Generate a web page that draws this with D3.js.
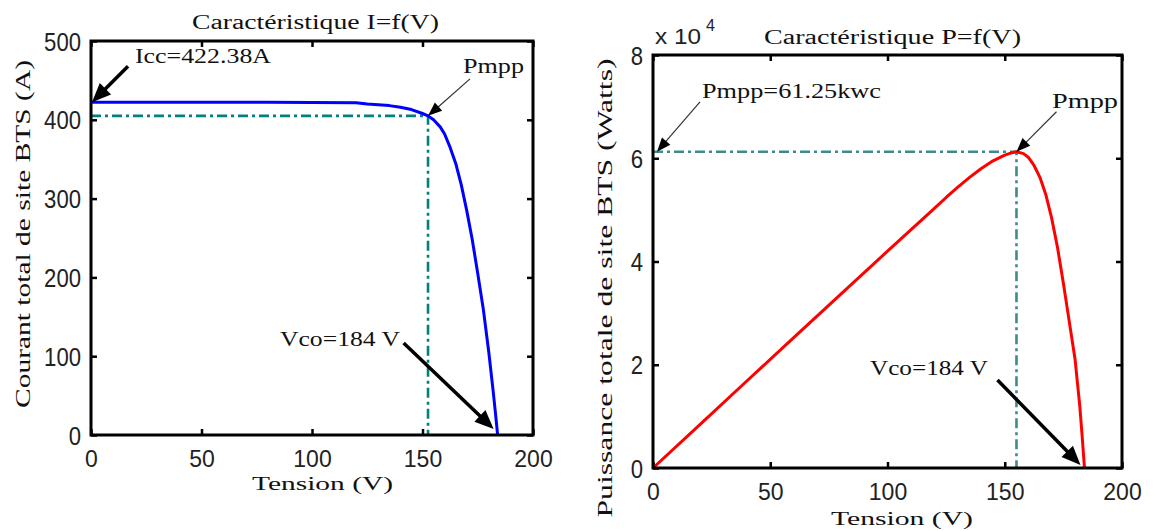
<!DOCTYPE html>
<html>
<head>
<meta charset="utf-8">
<script src="https://cdn.jsdelivr.net/npm/d3@7"></script>
<style>
  body { margin: 0; background: #fff; }
  svg { display: block; }
</style>
</head>
<body>
<svg id="fig" width="1154" height="531"></svg>
<script>
// Tension aux bornes du champ PV (V)
const voltage = [0, 20, 40, 60, 80, 100, 120, 125, 130, 135, 140, 145, 150, 152.5, 155,
                 158, 160, 162.5, 165, 167.5, 170, 172.5, 175, 177.5, 180, 182, 183, 184];
// Courant total du site BTS (A)
const current = [422.38, 422.38, 422.38, 422.3, 422.2, 422.0, 421.5, 420, 419, 418, 416, 413, 408, 405, 400,
                 391, 382, 365, 345, 318, 285, 248, 205, 160, 105, 55, 28, 0];
// Puissance totale du site BTS (W)
const power = [0, 8420, 16850, 25250, 33650, 42000, 50300, 52400, 54400, 56300, 58000, 59500, 60600, 61000, 61250,
               60900, 60200, 58600, 56300, 53000, 48400, 42700, 35800, 28400, 21000, 12000, 6200, 0];

const voltageTicks = [0, 50, 100, 150, 200];
const currentTicks = [0, 100, 200, 300, 400, 500];
const powerTicks = [0, 20000, 40000, 60000, 80000];

// Points remarquables
const iccValue = 422.38;
const vcoValue = 184;
const vMppI = 152.5, iMpp = 405;
const vMppP = 155, pMpp = 61250;

const svg = d3.select("#fig");
svg.append("rect").attr("width", 1154).attr("height", 531).attr("fill", "#fff");

const SERIF = "'Liberation Serif', 'DejaVu Serif', serif";
const SANS = "'Liberation Sans', Arial, sans-serif";

function label(g, text, x, y, len, opts = {}) {
  const t = g.append("text")
    .attr("x", x).attr("y", y)
    .attr("font-family", opts.family || SERIF)
    .attr("font-size", opts.size || 20)
    .attr("fill", opts.fill || "#111")
    .attr("text-anchor", opts.anchor || "start")
    .text(text);
  if (len) t.attr("textLength", len).attr("lengthAdjust", "spacingAndGlyphs");
  if (opts.rotate) t.attr("transform", `rotate(-90,${x},${y})`);
  return t;
}

function arrow(g, tip, dx, dy, thick) {
  const [x2, y2] = tip;
  const x1 = x2 + dx, y1 = y2 + dy;
  const L = Math.hypot(dx, dy);
  const ux = -dx / L, uy = -dy / L;          // direction queue -> pointe
  const headLen = thick ? 19 : 14;
  const half = thick ? 8 : 5.5;
  const bx = x2 - ux * headLen, by = y2 - uy * headLen;
  g.append("line")
    .attr("x1", x1).attr("y1", y1).attr("x2", bx + ux * 2).attr("y2", by + uy * 2)
    .attr("stroke", thick ? "#000" : "#333")
    .attr("stroke-width", thick ? 3.5 : 1.2);
  g.append("path")
    .attr("d", `M${x2},${y2}L${bx - uy * half},${by + ux * half}L${bx + uy * half},${by - ux * half}Z`)
    .attr("fill", "#000");
}

function panel(cfg) {
  const g = svg.append("g");
  const x = d3.scaleLinear().domain([0, 200]).range([cfg.left, cfg.right]);
  const y = d3.scaleLinear().domain(cfg.yDomain).range([cfg.bottom, cfg.top]);

  // Graduations tournées vers l'intérieur sur les quatre côtés
  const tick = 6;
  const styleAxis = sel => {
    sel.select(".domain").remove();
    sel.selectAll(".tick line").attr("stroke", "#000").attr("stroke-width", 2.5);
  };
  g.append("g").attr("transform", `translate(0,${cfg.bottom})`)
    .call(d3.axisBottom(x).tickValues(voltageTicks).tickSize(-tick).tickPadding(0).tickFormat(d3.format("d")))
    .call(styleAxis)
    .call(s => s.selectAll(".tick text")
      .attr("font-family", SANS).attr("font-size", 24).attr("fill", "#222")
      .attr("dy", null).attr("y", 32)
      .attr("textLength", function () { return this.textContent.length * 12.8; })
      .attr("lengthAdjust", "spacingAndGlyphs"));
  g.append("g").attr("transform", `translate(0,${cfg.top})`)
    .call(d3.axisTop(x).tickValues(voltageTicks).tickSize(-tick).tickFormat(""))
    .call(styleAxis);
  g.append("g").attr("transform", `translate(${cfg.left},0)`)
    .call(d3.axisLeft(y).tickValues(cfg.yTicks).tickSize(-tick).tickPadding(0).tickFormat(cfg.yFormat))
    .call(styleAxis)
    .call(s => s.selectAll(".tick text")
      .attr("font-family", SANS).attr("font-size", 25).attr("fill", "#222")
      .attr("x", -10).attr("dy", "0.36em")
      .attr("textLength", function () { return this.textContent.length * 12.3; })
      .attr("lengthAdjust", "spacingAndGlyphs"));
  g.append("g").attr("transform", `translate(${cfg.right},0)`)
    .call(d3.axisRight(y).tickValues(cfg.yTicks).tickSize(-tick).tickFormat(""))
    .call(styleAxis);

  // Point de puissance maximale : repères en trait mixte
  const dash = "10,4,3,4";
  g.append("path")
    .attr("d", d3.line()([[x(0), y(cfg.mppY)], [x(cfg.mppV), y(cfg.mppY)], [x(cfg.mppV), y(0)]]))
    .attr("fill", "none").attr("stroke", cfg.dashColor).attr("stroke-width", 2.6)
    .attr("stroke-dasharray", dash);

  // Caractéristique
  g.append("path")
    .datum(voltage.map((v, i) => [v, cfg.values[i]]))
    .attr("d", d3.line().x(d => x(d[0])).y(d => y(d[1])))
    .attr("fill", "none").attr("stroke", cfg.color).attr("stroke-width", 3)
    .attr("stroke-linejoin", "round");

  // Cadre
  g.append("rect")
    .attr("x", cfg.left).attr("y", cfg.top)
    .attr("width", cfg.right - cfg.left).attr("height", cfg.bottom - cfg.top)
    .attr("fill", "none").attr("stroke", "#000").attr("stroke-width", 3);

  return { g, x, y };
}

// ---- Caractéristique I = f(V)
const left = panel({
  left: 91, right: 533, top: 41, bottom: 435,
  yDomain: [0, 500], yTicks: currentTicks, yFormat: d3.format("d"),
  values: current, color: "#0000ff",
  mppV: vMppI, mppY: iMpp, dashColor: "#008080"
});
label(left.g, "Caractéristique I=f(V)", 192, 29, 247);
label(left.g, "Courant total de site BTS (A)", 30, 234, 348, { anchor: "middle", rotate: true });
label(left.g, "Tension (V)", 252, 490, 141, { size: 19 });
label(left.g, "Icc=422.38A", 135, 63, 136);
arrow(left.g, [left.x(0) + 1, left.y(iccValue)], 36, -36, true);
label(left.g, "Pmpp", 463, 73, 61);
arrow(left.g, [left.x(vMppI), left.y(iMpp)], 42, -37, false);
label(left.g, "Vco=184 V", 280, 346, 120);
arrow(left.g, [left.x(vcoValue) - 4, left.y(0) - 6], -90, -86, true);

// ---- Caractéristique P = f(V)
const right = panel({
  left: 653, right: 1122, top: 55, bottom: 468,
  yDomain: [0, 80000], yTicks: powerTicks, yFormat: d => d3.format("d")(d / 1e4),
  values: power, color: "#ff0000",
  mppV: vMppP, mppY: pMpp, dashColor: "#3f8b8b"
});
label(right.g, "x 10", 655, 44, 46, { family: SANS, size: 22, fill: "#222" });
label(right.g, "4", 706, 31, null, { family: SANS, size: 16, fill: "#222" });
label(right.g, "Caractéristique P=f(V)", 764, 44, 257);
label(right.g, "Puissance totale de site BTS (Watts)", 612, 288, 459, { anchor: "middle", rotate: true });
label(right.g, "Tension (V)", 831, 525, 142, { size: 19 });
label(right.g, "Pmpp=61.25kwc", 702, 98, 179);
arrow(right.g, [right.x(0) + 4, right.y(pMpp)], 43, -50, false);
label(right.g, "Pmpp", 1052, 108, 66);
arrow(right.g, [right.x(vMppP), right.y(pMpp)], 40, -40, false);
label(right.g, "Vco=184 V", 870, 375, 118);
arrow(right.g, [right.x(vcoValue) - 4, right.y(0) - 3], -83, -85, true);
</script>
</body>
</html>
